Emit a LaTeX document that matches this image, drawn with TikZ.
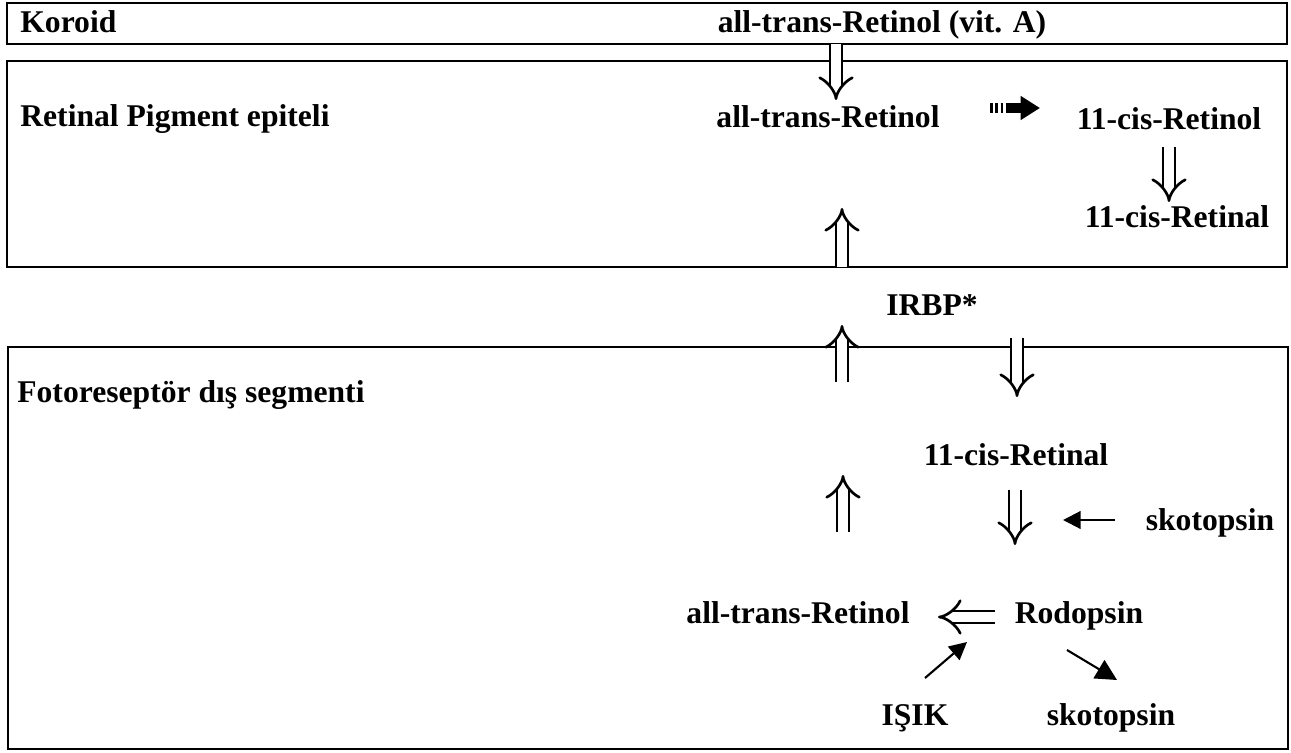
\documentclass[tikz,border=0pt]{standalone}
\usepackage{fontspec}
\setmainfont{Liberation Serif}
\usetikzlibrary{arrows.meta}

\tikzset{
  lbl/.style={font=\fontsize{18}{20}\selectfont\bfseries, inner sep=0pt, anchor=base},
  lbll/.style={lbl, anchor=base west},
  layer/.style={line width=1.3pt},
  dbl/.style={double, double distance=5.5pt, line width=1.5pt, -{Implies}},
  sarrow/.style={line width=1.2pt, -{Triangle[length=10pt,width=10pt]}},
  fatarrow/.style={line width=5.5pt, dash pattern=on 1.5pt off 1.5pt on 1.5pt off 1.5pt on 1.5pt off 1.5pt on 40pt,
    -{Triangle[length=11pt,width=13pt]}}
}

\begin{document}
\begin{tikzpicture}[x=0.02cm, y=-0.02cm]
  \useasboundingbox (0,0) rectangle (1291,753);

  % the three layers
  \draw[layer] (7,3) rectangle (1287,44);
  \draw[layer] (7,61) rectangle (1287,267);
  \draw[layer] (8,347) rectangle (1288,749);

  % labels
  \node[lbll] (koroid) at (20,33) {Koroid};
  \node[lbl] (vitA) at (882,33) {all-trans-Retinol (vit. A)};
  \node[lbll] (rpe) at (20,127) {Retinal Pigment epiteli};
  \node[lbl] (rpeRol) at (828,128) {all-trans-Retinol};
  \node[lbl] (cisRol) at (1169,130) {11-cis-Retinol};
  \node[lbl] (cisRal) at (1177,228) {11-cis-Retinal};
  \node[lbl] (irbp) at (932,315) {IRBP*};
  \node[lbll] (foto) at (17,402) {Fotoreseptör dış segmenti};
  \node[lbl] (fCisRal) at (1016,465) {11-cis-Retinal};
  \node[lbl] (skoIn) at (1210,530) {skotopsin};
  \node[lbl] (fRol) at (798,623) {all-trans-Retinol};
  \node[lbl] (rodo) at (1079,623) {Rodopsin};
  \node[lbl] (isik) at (915,725) {IŞIK};
  \node[lbl] (skoOut) at (1111,725) {skotopsin};

  % arrow ends
  \coordinate (a0) at (836,44);   \coordinate (a1) at (836,100);
  \coordinate (b0) at (990,108);  \coordinate (b1) at (1040,108);
  \coordinate (c0) at (1169,147); \coordinate (c1) at (1169,202);
  \coordinate (d0) at (842,267);  \coordinate (d1) at (842,208);
  \coordinate (e0) at (842,382);  \coordinate (e1) at (842,325);
  \coordinate (f0) at (1017,338); \coordinate (f1) at (1017,397);
  \coordinate (g0) at (843,532);  \coordinate (g1) at (843,475);
  \coordinate (h0) at (1015,490); \coordinate (h1) at (1015,545);
  \coordinate (i0) at (1115,520); \coordinate (i1) at (1063,520);
  \coordinate (j0) at (995,617);  \coordinate (j1) at (938,617);
  \coordinate (k0) at (925,678);  \coordinate (k1) at (967,642);
  \coordinate (l0) at (1067,650); \coordinate (l1) at (1117,680);

  \draw[dbl] (a0) -- (a1);
  \draw[fatarrow] (b0) -- (b1);
  \draw[dbl] (c0) -- (c1);
  \draw[dbl] (d0) -- (d1);
  \draw[dbl] (e0) -- (e1);
  \draw[dbl] (f0) -- (f1);
  \draw[dbl] (g0) -- (g1);
  \draw[dbl] (h0) -- (h1);
  \draw[sarrow] (i0) -- (i1);
  \draw[dbl] (j0) -- (j1);
  \draw[sarrow] (k0) -- (k1);
  \draw[sarrow, -{Triangle[length=12pt,width=12pt]}] (l0) -- (l1);
\end{tikzpicture}
\end{document}
